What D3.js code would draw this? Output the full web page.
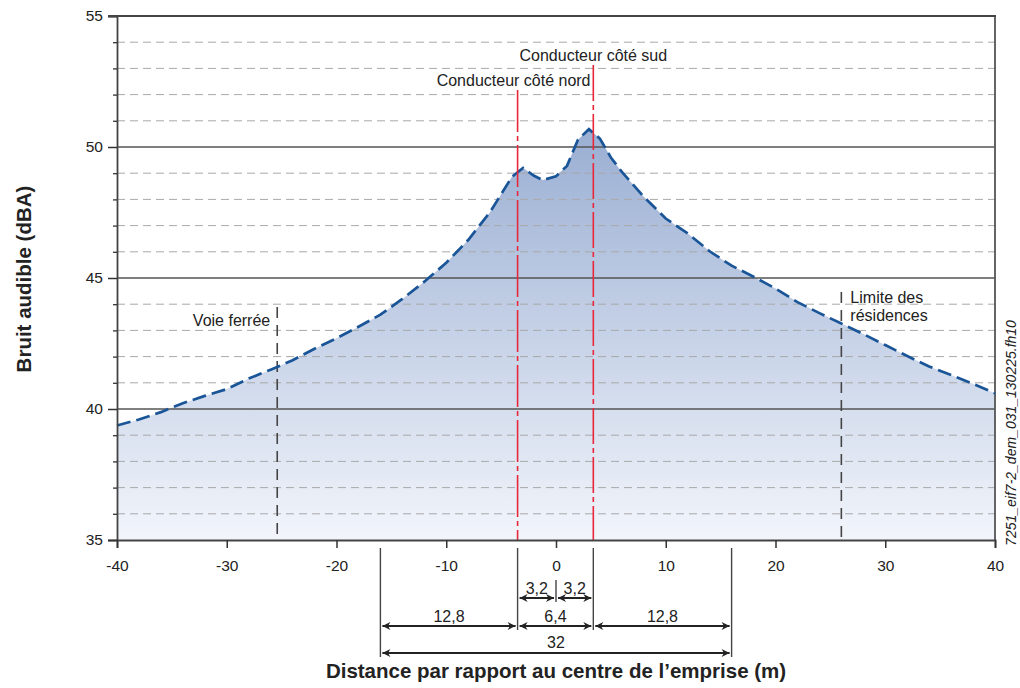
<!DOCTYPE html>
<html><head><meta charset="utf-8">
<script src="https://cdn.jsdelivr.net/npm/d3@7"></script>
<style>body{margin:0;background:#fff}svg{display:block;font-family:"Liberation Sans",Arial,sans-serif}</style>
</head><body><svg id="c" width="1020" height="688"></svg>
<script>
// ---- data ----
const distances = [-40,-38,-36,-34,-32,-30,-28,-26,-24,-22,-20,-18,-16,-14,-12,-10,-8,-6,-4,-3,-2,-1.2,0,1,2,3,4,5,6,8,10,12,14,16,18,20,22,24,26,28,30,32,34,36,38,40];
const noise =     [39.37,39.6,39.88,40.22,40.5,40.76,41.16,41.5,41.86,42.3,42.7,43.14,43.6,44.2,44.86,45.58,46.45,47.52,48.87,49.2,48.9,48.74,48.88,49.28,50.28,50.68,50.32,49.6,49.05,48.1,47.27,46.7,46.02,45.47,45.05,44.6,44.08,43.66,43.26,42.86,42.44,42.02,41.62,41.3,40.96,40.6];
const xTicks = [-40,-30,-20,-10,0,10,20,30,40];
const yMajor = [35,40,45,50,55];
const yMinor = [36,37,38,39,41,42,43,44,46,47,48,49,51,52,53,54];
const conductorNorth = -3.5, conductorSouth = 3.4;
const railway = -25.4, residences = 26.0;
const rowHalf = [ {a:conductorNorth,b:0,label:"3,2"}, {a:0,b:conductorSouth,label:"3,2"} ];
const rowMid = [ {a:-16,b:conductorNorth,label:"12,8"}, {a:conductorNorth,b:conductorSouth,label:"6,4"}, {a:conductorSouth,b:16,label:"12,8"} ];
const rowFull = [ {a:-16,b:16,label:"32"} ];

// ---- layout ----
const svg = d3.select("#c");
const x = d3.scaleLinear().domain([-40,40]).range([117,995]);
const y = d3.scaleLinear().domain([35,55]).range([540,16]);

const defs = svg.append("defs");
const g = defs.append("linearGradient").attr("id","fillg").attr("gradientUnits","userSpaceOnUse")
  .attr("x1",0).attr("x2",0).attr("y1",y(51)).attr("y2",y(35));
g.append("stop").attr("offset",0).attr("stop-color","#98add2");
g.append("stop").attr("offset",1).attr("stop-color","#f2f5fb");
const mk = (id, d) => defs.append("marker").attr("id",id).attr("viewBox","0 0 10 10")
  .attr("refX",d==="end"?10:0).attr("refY",5).attr("markerWidth",12).attr("markerHeight",8)
  .attr("markerUnits","userSpaceOnUse").attr("orient","auto")
  .append("path").attr("d", d==="end" ? "M0,0 L10,5 L0,10 L3,5 Z" : "M10,0 L0,5 L10,10 L7,5 Z").attr("fill","#222");
mk("ae","end"); mk("as","start");

// area
svg.append("path").datum(distances.map((d,i)=>[d,noise[i]]))
  .attr("d", d3.area().x(d=>x(d[0])).y0(y(35)).y1(d=>y(d[1])))
  .attr("fill","url(#fillg)");

// minor grid
svg.append("g").selectAll("line").data(yMinor).join("line")
  .attr("x1",x(-40)).attr("x2",x(40)).attr("y1",d=>y(d)).attr("y2",d=>y(d))
  .attr("stroke","#a9a9a9").attr("stroke-width",1).attr("stroke-dasharray","8,5");
// major grid
svg.append("g").selectAll("line").data(yMajor.filter(v=>v>35)).join("line")
  .attr("x1",x(-40)).attr("x2",x(40)).attr("y1",d=>y(d)).attr("y2",d=>y(d))
  .attr("stroke","#555").attr("stroke-width",1.3);
// right border
svg.append("line").attr("x1",x(40)).attr("x2",x(40)).attr("y1",y(55)).attr("y2",y(35)).attr("stroke","#555").attr("stroke-width",1.8);

// reference dashed lines
svg.append("line").attr("x1",x(railway)).attr("x2",x(railway)).attr("y1",307).attr("y2",y(35))
  .attr("stroke","#444").attr("stroke-width",1.6).attr("stroke-dasharray","11,7");
svg.append("line").attr("x1",x(residences)).attr("x2",x(residences)).attr("y1",292).attr("y2",y(35))
  .attr("stroke","#444").attr("stroke-width",1.6).attr("stroke-dasharray","11,7");

// curve
svg.append("path").datum(distances.map((d,i)=>[d,noise[i]]))
  .attr("d", d3.line().x(d=>x(d[0])).y(d=>y(d[1])))
  .attr("fill","none").attr("stroke","#1a5598").attr("stroke-width",2.7).attr("stroke-dasharray","14,6");

// conductor lines
svg.append("line").attr("x1",x(conductorNorth)).attr("x2",x(conductorNorth)).attr("y1",90).attr("y2",y(35))
  .attr("stroke","#e8283a").attr("stroke-width",1.6).attr("stroke-dasharray","42,4,5,4");
svg.append("line").attr("x1",x(conductorSouth)).attr("x2",x(conductorSouth)).attr("y1",65).attr("y2",y(35))
  .attr("stroke","#e8283a").attr("stroke-width",1.6).attr("stroke-dasharray","36,4,5,4");

// axes
const fmt = d => String(d);
const ya = svg.append("g").attr("transform",`translate(${x(-40)},0)`)
  .call(d3.axisLeft(y).tickValues(yMajor).tickSize(9).tickPadding(5).tickFormat(fmt));
ya.select(".domain").attr("stroke","#444").attr("stroke-width",1.8);
ya.selectAll(".tick line").attr("stroke","#333").attr("stroke-width",1.5);
ya.selectAll("text").attr("font-size",15.5).attr("fill","#222").attr("font-family","Liberation Sans, Arial");
svg.append("g").attr("transform",`translate(${x(-40)},0)`)
  .call(d3.axisLeft(y).tickValues(yMinor).tickSize(4).tickFormat(""))
  .call(s=>{s.select(".domain").remove(); s.selectAll(".tick line").attr("stroke","#333").attr("stroke-width",1.3); s.selectAll("text").remove();});

const xa = svg.append("g").attr("transform",`translate(0,${y(35)})`)
  .call(d3.axisBottom(x).tickValues(xTicks).tickSize(8).tickPadding(12).tickFormat(fmt));
xa.select(".domain").attr("stroke","#444").attr("stroke-width",1.8);
xa.selectAll(".tick line").attr("stroke","#333").attr("stroke-width",1.5);
xa.selectAll("text").attr("font-size",15.5).attr("fill","#222").attr("font-family","Liberation Sans, Arial");
// top border
svg.append("line").attr("x1",x(-40)-9).attr("x2",x(40)+1).attr("y1",y(55)).attr("y2",y(55)).attr("stroke","#444").attr("stroke-width",1.8);

// labels
const txt = (xx,yy,s,opt={}) => svg.append("text").attr("x",xx).attr("y",yy).attr("font-size",opt.size||16)
  .attr("fill",opt.fill||"#222").attr("text-anchor",opt.anchor||"start").attr("font-weight",opt.weight||"normal").text(s);
txt(x(conductorNorth)-4,86,"Conducteur côté nord",{anchor:"middle"});
txt(x(conductorSouth),61,"Conducteur côté sud",{anchor:"middle"});
txt(x(railway)-7,326,"Voie ferrée",{anchor:"end"});
txt(x(residences)+9,303,"Limite des");
txt(x(residences)+9,321,"résidences");

// dimension lines
const ext = [-16,conductorNorth,0,conductorSouth,16];
const extY2 = [657,630,602,630,657];
const extY1 = [548,548,580,548,548];
svg.append("g").selectAll("line").data(ext).join("line")
  .attr("x1",d=>x(d)).attr("x2",d=>x(d)).attr("y1",(d,i)=>extY1[i]).attr("y2",(d,i)=>extY2[i])
  .attr("stroke","#444").attr("stroke-width",1.4);
function row(data, yy, ty){
  const gg = svg.append("g");
  gg.selectAll("line").data(data).join("line")
    .attr("x1",d=>x(d.a)+2).attr("x2",d=>x(d.b)-2).attr("y1",yy).attr("y2",yy)
    .attr("stroke","#222").attr("stroke-width",2).attr("marker-start","url(#as)").attr("marker-end","url(#ae)");
  gg.selectAll("text").data(data).join("text")
    .attr("x",d=>x((d.a+d.b)/2)).attr("y",ty).attr("text-anchor","middle").attr("font-size",16).attr("fill","#222").text(d=>d.label);
}
row(rowHalf,598,594);
row(rowMid,626,622);
row(rowFull,653,648);

// axis titles
txt(x(0),678,"Distance par rapport au centre de l\u2019emprise (m)",{anchor:"middle",weight:"bold",size:20.5});
svg.append("text").attr("transform","translate(31,279) rotate(-90)").attr("text-anchor","middle")
  .attr("font-size",20.5).attr("font-weight","bold").attr("fill","#222").text("Bruit audible (dBA)");
svg.append("text").attr("transform","translate(1016,433) rotate(-90)").attr("text-anchor","middle")
  .attr("font-size",14).attr("font-style","italic").attr("fill","#222").text("7251_eif7-2_dem_031_130225.fh10");
</script></body></html>
